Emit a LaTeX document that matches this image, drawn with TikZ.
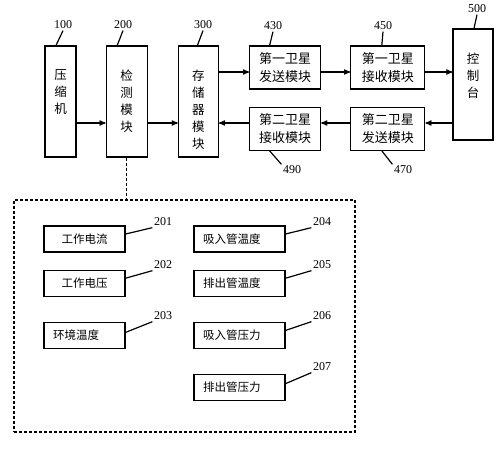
\documentclass[tikz,border=0pt]{standalone}
\usepackage{fontspec}
\setmainfont{Liberation Serif}
\newfontfamily\cjk{Noto Sans CJK SC}
\usetikzlibrary{arrows,positioning}

\begin{document}
\begin{tikzpicture}[x=1pt,y=-1pt,->,>=stealth',line width=1.2pt,
  tall/.style={draw,minimum height=111pt,inner sep=0pt},
  mid/.style={draw,minimum height=43pt,inner sep=0pt,align=center,
    font=\cjk\fontsize{13}{18}\selectfont},
  lbox/.style={draw,minimum height=26pt,inner xsep=9pt,inner ysep=0pt,
    text width=63pt,align=center,font=\cjk\fontsize{11.5}{14}\selectfont},
  rbox/.style={lbox,text width=73pt,align=left},
  num/.style={font=\fontsize{12}{12}\selectfont,inner sep=1pt},
  vtext/.style={anchor=north,yshift=-24pt,align=center,inner sep=0pt,
    font=\cjk\fontsize{12.5}{17}\selectfont},
  dash box/.style={dash pattern=on 3pt off 2pt}]

    \useasboundingbox (0,0) rectangle (497,450);

    % top row
    \node[tall,minimum width=31pt,label={[vtext]north:压\\缩\\机}] (ysj) at (60.5,101.5) {};
    \node[tall,minimum width=41pt,right=29pt of ysj,label={[vtext]north:检\\测\\模\\块}] (jc) {};
    \node[tall,minimum width=40pt,right=30pt of jc,label={[vtext]north:存\\储\\器\\模\\块}] (cc) {};
    \node[mid,minimum width=71pt,right=30pt of cc.north east,anchor=north west] (fs1) {第一卫星\\发送模块};
    \node[mid,minimum width=74pt,right=29pt of fs1] (js1) {第一卫星\\接收模块};
    \node[mid,minimum width=71pt,below=17pt of fs1] (js2) {第二卫星\\接收模块};
    \node[mid,minimum width=74pt,below=17pt of js1] (fs2) {第二卫星\\发送模块};
    \node[tall,minimum width=40pt,right=27pt of js1.north east,anchor=north west,yshift=17pt,
      label={[vtext]north:控\\制\\台}] (kzt) {};

    \coordinate (up) at (0,72); \coordinate (dn) at (0,123);
    \draw (ysj.east |- dn) -- (jc.west |- dn);
    \draw (jc.east |- dn) -- (cc.west |- dn);
    \draw (cc.east |- up) -- (fs1.west |- up);
    \draw (fs1.east |- up) -- (js1.west |- up);
    \draw (js1.east |- up) -- (kzt.west |- up);
    \draw (kzt.west |- dn) -- (fs2.east |- dn);
    \draw (fs2.west |- dn) -- (js2.east |- dn);
    \draw (js2.west |- dn) -- (cc.east |- dn);

    \path[-,every node/.style={num}]
      (63,25) node (n100) {100} (123,25) node (n200) {200}
      (203,25) node (n300) {300} (273,26) node (n430) {430}
      (383,26) node (n450) {450} (477,9) node (n500) {500}
      (292,170) node (n490) {490} (403,170) node (n470) {470};
    \draw[-] ([xshift=-4.5pt]ysj.north) -- (n100.south);
    \draw[-] ([xshift=-9.5pt]jc.north) -- (n200.south);
    \draw[-] ([xshift=-1pt]cc.north) -- (n300.south);
    \draw[-] ([xshift=-15.5pt]fs1.north) -- (n430.south);
    \draw[-] ([xshift=-6pt]js1.north) -- (n450.south);
    \draw[-] ([xshift=1pt]kzt.north) -- (n500.south);
    \draw[-] ([xshift=-15.5pt]js2.south) -- (n490.north west);
    \draw[-] ([xshift=-6pt]fs2.south) -- (n470.north west);

    % detection parameters
    \node[draw,dash box,minimum width=341pt,minimum height=232pt,inner sep=0pt] (fw) at (184.5,316) {};
    \draw[-,dash box] (jc.south) -- (jc.south |- fw.north);

    \node[lbox] (dl) at (84.5,239) {工作电流};
    \node[lbox,below=17pt of dl] (dy) {工作电压};
    \node[lbox,align=left,below=25pt of dy] (hj) {环境温度};
    \node[rbox] (xw) at (239.5,239) {吸入管温度};
    \node[rbox,below=17pt of xw] (pw) {排出管温度};
    \node[rbox,below=25pt of pw] (xy) {吸入管压力};
    \node[rbox,below=25pt of xy] (py) {排出管压力};

    \path[-,every node/.style={num}]
      (163,222) node (n201) {201} (163,265) node (n202) {202}
      (163,316) node (n203) {203} (322,222) node (n204) {204}
      (322,265) node (n205) {205} (322,316) node (n206) {206}
      (322,367) node (n207) {207};
    \draw[-] ([yshift=5pt]dl.east) -- (n201.south west);
    \draw[-] ([yshift=5pt]dy.east) -- (n202.south west);
    \draw[-] ([yshift=3pt]hj.east) -- (n203.south west);
    \draw[-] ([yshift=5pt]xw.east) -- (n204.south west);
    \draw[-] ([yshift=5pt]pw.east) -- (n205.south west);
    \draw[-] ([yshift=5pt]xy.east) -- (n206.south west);
    \draw[-] ([yshift=4pt]py.east) -- (n207.south west);
\end{tikzpicture}
\end{document}
